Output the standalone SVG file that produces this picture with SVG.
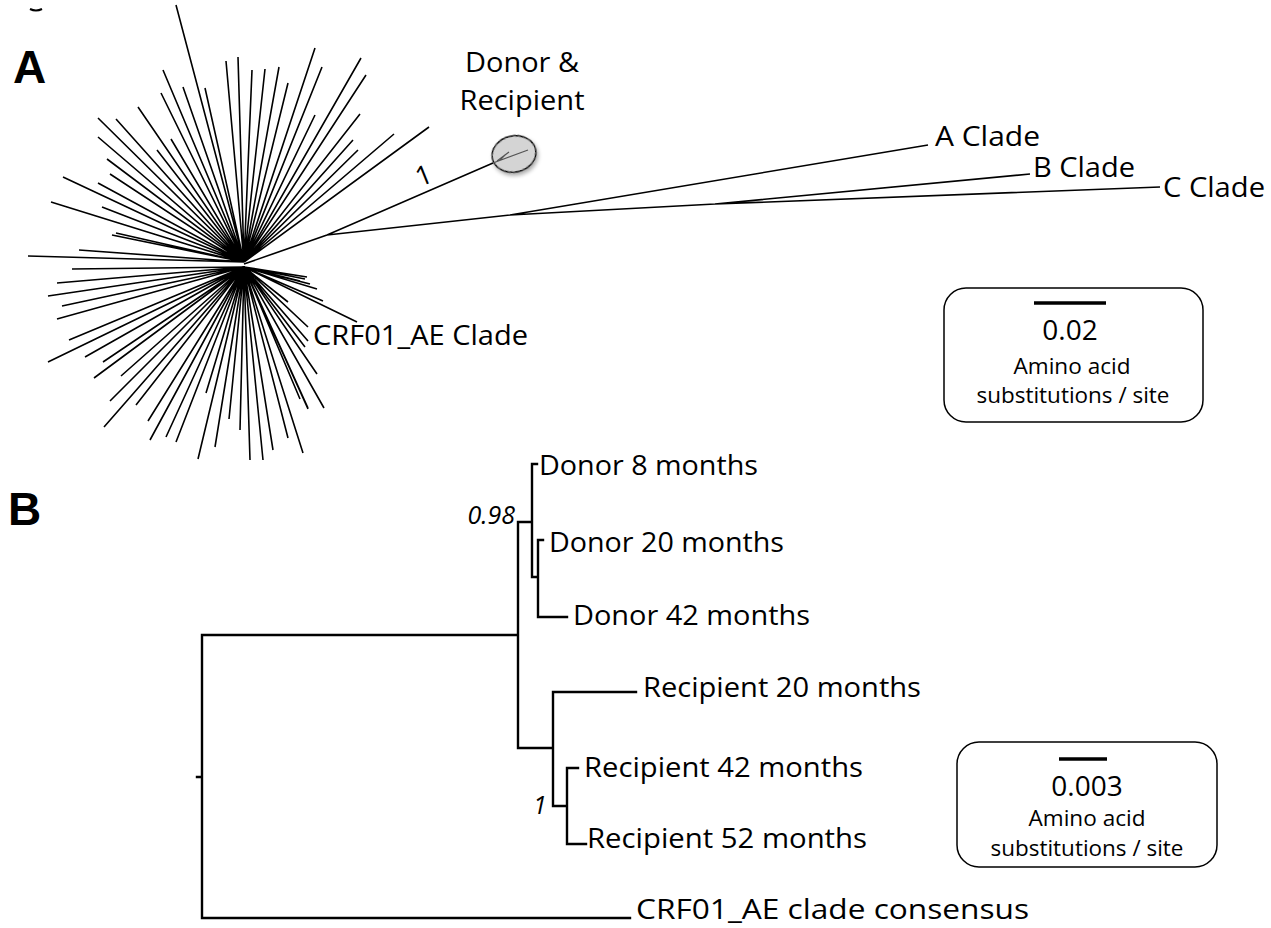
<svg xmlns="http://www.w3.org/2000/svg" width="1271" height="928" viewBox="0 0 1271 928">
<style>
.br{fill:none;stroke:#000;stroke-width:1.6;stroke-linecap:butt}
.tr{fill:none;stroke:#000;stroke-width:2.4;stroke-linecap:square}
.lb{font-family:"Open Sans","Liberation Sans",sans-serif;font-size:27px;fill:#000}
.sm{font-family:"Open Sans","Liberation Sans",sans-serif;font-size:21px;fill:#000}
.num{font-family:"Open Sans","Liberation Sans",sans-serif;font-size:28px;fill:#000}
.it{font-family:"Open Sans","Liberation Sans",sans-serif;font-size:25px;font-style:italic;fill:#000}
.pn{font-family:"Liberation Sans",Arial,sans-serif;font-size:46px;font-weight:bold;fill:#000}
.box{fill:#fff;stroke:#000;stroke-width:1.5}
</style>
<defs>
<filter id="sh" x="-50%" y="-50%" width="200%" height="200%">
<feGaussianBlur in="SourceAlpha" stdDeviation="2"/>
<feOffset dx="1" dy="3"/>
<feComponentTransfer><feFuncA type="linear" slope="0.35"/></feComponentTransfer>
<feMerge><feMergeNode/><feMergeNode in="SourceGraphic"/></feMerge>
</filter>
</defs>
<rect width="1271" height="928" fill="#fff"/>
<path d="M30 9 Q36 12 42 9" fill="none" stroke="#000" stroke-width="2"/>

<g id="panelA">
<text class="pn" x="13" y="83">A</text>
<g id="connectors-A">
<path class="br" d="M244 262L176 5M244 262L226 61M244 262L238 57M244 262L252 70M244 262L265 69M244 262L279 67M244 262L288 83M244 262L315 48M244 262L322 67M244 262L361 58M244 262L366 75M244 262L315 115M244 262L360 114M244 262L353 140M244 262L358 150M244 262L394 134M244 262L429 127M244 262L163 70M244 262L183 87M244 262L205 88M244 262L161 93M244 262L138 107M244 262L98 118M244 262L116 119M244 262L98 137M244 262L171 139M244 262L157 150M244 262L107 159M244 262L110 174M244 262L63 177M244 262L98 183M244 262L51 202M244 262L102 207M244 262L116 233M244 262L112 235M244 262L79 250M244 262L28 256"/>
<path class="br" d="M244 267L72 269M244 267L57 283M244 267L48 296M244 267L62 306M244 267L57 319M244 267L69 340M244 267L48 362M244 267L85 357M244 267L103 362M244 267L94 378M244 267L121 376M244 267L110 401M244 267L136 405M244 267L104 427M244 267L148 421M244 267L150 440M244 267L166 437M244 267L176 442M244 267L198 459M244 267L206 393M244 267L215 447M244 267L229 419M244 267L240 430M244 267L250 460M244 267L263 460M244 267L273 450M244 267L288 438M244 267L303 453M244 267L300 399M244 267L308 408M244 267L317 374M244 267L324 408M244 267L308 409M244 267L307 277M244 267L305 279M244 267L300 281M244 267L310 284M244 267L317 289M244 267L323 301M244 267L288 302M244 267L357 322M244 267L308 327M244 267L308 341M244 267L305 347"/>
<path class="br" d="M244 264L327 235L493 163M327 235L510 215L928 145M510 215L715 204L1030 174M715 204L1160 187"/>
</g>
<g id="node-donor-recipient">
<ellipse cx="514" cy="154" rx="22" ry="18" transform="rotate(-12 514 154)" fill="#d4d4d4" stroke="#000" stroke-width="1.4" filter="url(#sh)"/>
<path d="M493 163L528 150M497 161L509 152M500 160L505 155" fill="none" stroke="#555" stroke-width="1.2"/>
<text class="lb" x="522" y="72" text-anchor="middle" textLength="114" lengthAdjust="spacingAndGlyphs">Donor &amp;</text>
<text class="lb" x="522" y="110" text-anchor="middle" textLength="125" lengthAdjust="spacingAndGlyphs">Recipient</text>
<text class="lb" x="0" y="0" transform="translate(420 187) rotate(-22)" font-size="28">1</text>
</g>
<g id="node-A"><text class="lb" x="935" y="146" textLength="105" lengthAdjust="spacingAndGlyphs">A Clade</text></g>
<g id="node-B"><text class="lb" x="1033" y="177" textLength="102" lengthAdjust="spacingAndGlyphs">B Clade</text></g>
<g id="node-C"><text class="lb" x="1163" y="197" textLength="102" lengthAdjust="spacingAndGlyphs">C Clade</text></g>
<g id="node-CRF"><text class="lb" x="313" y="345" textLength="215" lengthAdjust="spacingAndGlyphs">CRF01_AE Clade</text></g>
<g id="scale-A">
<rect class="box" x="944" y="288" width="259" height="134" rx="22"/>
<line x1="1034" y1="303" x2="1106" y2="303" stroke="#000" stroke-width="3.5"/>
<text class="num" x="1070" y="340" text-anchor="middle">0.02</text>
<text class="sm" x="1072" y="374" text-anchor="middle" textLength="117" lengthAdjust="spacingAndGlyphs">Amino acid</text>
<text class="sm" x="1073" y="403" text-anchor="middle" textLength="193" lengthAdjust="spacingAndGlyphs">substitutions / site</text>
</g>
</g>

<g id="panelB">
<text class="pn" x="8" y="525">B</text>
<g id="connectors-B">
<path class="tr" d="M518 635L202 635L202 918L630 918M197 777L202 777M518 635L518 522L532 522M518 635L518 748L553 748M532 464L537 464M532 464L532 577L538 577M538 540L543 540M538 540L538 617L567 617M553 692L636 692M553 692L553 806L567 806M567 768L578 768M567 768L567 844L586 844"/>
</g>
<g id="node-d8"><text class="lb" x="539" y="475" textLength="219" lengthAdjust="spacingAndGlyphs">Donor 8 months</text></g>
<g id="node-d20"><text class="lb" x="549" y="552" textLength="235" lengthAdjust="spacingAndGlyphs">Donor 20 months</text></g>
<g id="node-d42"><text class="lb" x="573" y="625" textLength="237" lengthAdjust="spacingAndGlyphs">Donor 42 months</text></g>
<g id="node-r20"><text class="lb" x="643" y="697" textLength="278" lengthAdjust="spacingAndGlyphs">Recipient 20 months</text></g>
<g id="node-r42"><text class="lb" x="584" y="777" textLength="279" lengthAdjust="spacingAndGlyphs">Recipient 42 months</text></g>
<g id="node-r52"><text class="lb" x="587" y="848" textLength="280" lengthAdjust="spacingAndGlyphs">Recipient 52 months</text></g>
<g id="node-crf"><text class="lb" x="636" y="919" textLength="393" lengthAdjust="spacingAndGlyphs">CRF01_AE clade consensus</text></g>
<text class="it" x="515" y="524" text-anchor="end">0.98</text>
<text class="it" x="533" y="814">1</text>
<g id="scale-B">
<rect class="box" x="957" y="742" width="260" height="125" rx="22"/>
<line x1="1059" y1="759" x2="1107" y2="759" stroke="#000" stroke-width="3.5"/>
<text class="num" x="1087" y="796" text-anchor="middle">0.003</text>
<text class="sm" x="1087" y="826" text-anchor="middle" textLength="117" lengthAdjust="spacingAndGlyphs">Amino acid</text>
<text class="sm" x="1087" y="856" text-anchor="middle" textLength="193" lengthAdjust="spacingAndGlyphs">substitutions / site</text>
</g>
</g>
</svg>
